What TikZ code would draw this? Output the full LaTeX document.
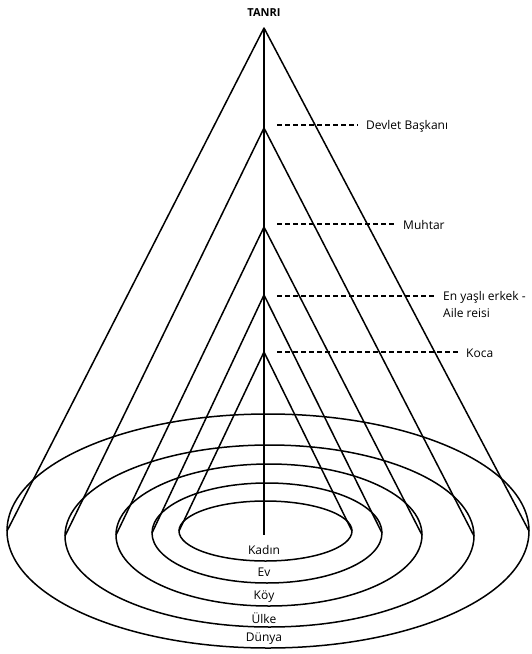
\documentclass[tikz,border=0pt]{standalone}
\usepackage{fontspec}
\setmainfont{Open Sans}
\usetikzlibrary{positioning}

\tikzset{
  cone/.style={line width=1.5pt, line join=round},
  guide/.style={line width=1.3pt, dash pattern=on 5pt off 3pt, shorten >=8pt},
  lbl/.style={anchor=west, inner sep=0pt},
}

\begin{document}
\begin{tikzpicture}[x=1pt,y=-1pt, every node/.style={font=\fontsize{12}{14}\selectfont}]
  \useasboundingbox (0,0) rectangle (532,654);
  \node[font=\fontsize{11}{13}\selectfont\bfseries] (tanriL) at (264,13) {TANRI};
  % rings and cones, outermost first
  \foreach \n/\ay/\cx/\cy/\a/\b in {du/28/268/531/261/117, ul/128/269.5/536/204.5/91,
      ko/227/269/535/153/71, ev/295/267/533/115/50, ka/352/265.5/531/86.5/30} {
    \coordinate (\n-top) at (264,\ay);
    \coordinate (\n-l) at (\cx-\a,\cy);
    \coordinate (\n-r) at (\cx+\a,\cy);
    \draw[cone] (\cx,\cy) ellipse [x radius=\a pt, y radius=\b pt];
    \draw[cone] (\n-l) -- (\n-top) -- (\n-r);
  }
  \coordinate (base) at (264,535);
  \draw[cone] (du-top) -- (base);
  % ranks
  \node[lbl] (devletL) at (366,126) {Devlet Başkanı};
  \node[lbl] (muhtarL) at (403,225) {Muhtar};
  \node[lbl] (erkekL) at (443,297) {En yaşlı erkek -};
  \node[lbl] (aileL) at (443,313) {Aile reisi};
  \node[lbl] (kocaL) at (466,353) {Koca};
  \foreach \y/\t in {125/devletL, 224/muhtarL, 296/erkekL, 352/kocaL} {
    \coordinate (g-\t) at (277,\y);
    \draw[guide] (g-\t) -- (\t.west |- g-\t);
  }
  % places
  \node (kadinL) at (264,550) {Kadın};
  \node (evL) at (264,572) {Ev};
  \node (koyL) at (264,597) {Köy};
  \node (ulkeL) at (264,618) {Ülke};
  \node (dunyaL) at (264,639) {Dünya};
\end{tikzpicture}
\end{document}
